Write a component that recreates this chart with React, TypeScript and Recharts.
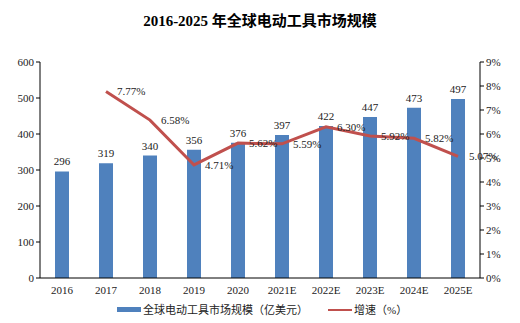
import React from 'react';
import { ComposedChart, Bar, Line, XAxis, YAxis, LabelList } from 'recharts';

const categories = ['2016', '2017', '2018', '2019', '2020', '2021E', '2022E', '2023E', '2024E', '2025E'];
const marketSize = [296, 319, 340, 356, 376, 397, 422, 447, 473, 497];
const growth: (number | null)[] = [null, 7.77, 6.58, 4.71, 5.62, 5.59, 6.30, 5.92, 5.82, 5.07];
const leftTicks = [0, 100, 200, 300, 400, 500, 600];
const rightTicks = [0, 1, 2, 3, 4, 5, 6, 7, 8, 9];

const data = categories.map((c, i) => ({ name: c, size: marketSize[i], growth: growth[i] }));

const serif = '"Liberation Serif", "Times New Roman", "DejaVu Serif", "Noto Sans CJK SC", serif';
const tickStyle = { fontFamily: serif, fontSize: 11, fill: '#222' };

export default function App() {
  return (
    <div style={{ position: 'absolute', left: 0, top: 0, width: 520, height: 323, background: '#fff' }}>
      <div
        style={{
          position: 'absolute',
          left: 0,
          top: 11,
          width: 520,
          textAlign: 'center',
          fontFamily: '"Liberation Serif", "Noto Sans CJK SC", serif',
          fontWeight: 'bold',
          fontSize: 15,
          lineHeight: '20px',
          color: '#000',
        }}
      >
        2016-2025 年全球电动工具市场规模
      </div>
      <ComposedChart
        width={520}
        height={323}
        data={data}
        margin={{ top: 62, right: 0, bottom: 25, left: 0 }}
        style={{ fontFamily: serif }}
      >
        <XAxis
          dataKey="name"
          tickLine={false}
          axisLine={{ stroke: '#000' }}
          tick={tickStyle}
          height={20}
          interval={0}
        />
        <YAxis
          yAxisId="left"
          width={40}
          domain={[0, 600]}
          ticks={leftTicks}
          axisLine={{ stroke: '#000' }}
          tickLine={{ stroke: '#000' }}
          tickSize={4}
          tick={tickStyle}
        />
        <YAxis
          yAxisId="right"
          orientation="right"
          width={40}
          domain={[0, 9]}
          ticks={rightTicks}
          axisLine={{ stroke: '#000' }}
          tickLine={{ stroke: '#000' }}
          tickSize={4}
          tick={tickStyle}
          tickFormatter={(v: number) => `${v}%`}
        />
        <Bar yAxisId="left" dataKey="size" fill="#4F81BD" barSize={14} isAnimationActive={false}>
          <LabelList dataKey="size" position="top" offset={6} style={{ fontFamily: serif, fontSize: 11, fill: '#222' }} />
        </Bar>
        <Line
          yAxisId="right"
          dataKey="growth"
          stroke="#C0504D"
          strokeWidth={3}
          dot={false}
          activeDot={false}
          isAnimationActive={false}
          connectNulls={false}
        >
          <LabelList
            dataKey="growth"
            position="right"
            offset={11}
            formatter={(v: any) => (v == null ? '' : `${Number(v).toFixed(2)}%`)}
            style={{ fontFamily: serif, fontSize: 11, fill: '#222' }}
          />
        </Line>
      </ComposedChart>
      <div
        style={{
          position: 'absolute',
          left: 0,
          top: 302,
          width: 520,
          height: 16,
          fontFamily: serif,
          fontSize: 11,
          color: '#222',
        }}
      >
        <div style={{ position: 'absolute', left: 117, top: 5, width: 24, height: 5, background: '#4F81BD' }} />
        <div style={{ position: 'absolute', left: 143, top: 0, lineHeight: '16px', whiteSpace: 'nowrap' }}>
          全球电动工具市场规模（亿美元）
        </div>
        <div style={{ position: 'absolute', left: 328, top: 7, width: 24, height: 2, background: '#C0504D' }} />
        <div style={{ position: 'absolute', left: 354, top: 0, lineHeight: '16px', whiteSpace: 'nowrap' }}>
          增速（%）
        </div>
      </div>
    </div>
  );
}
